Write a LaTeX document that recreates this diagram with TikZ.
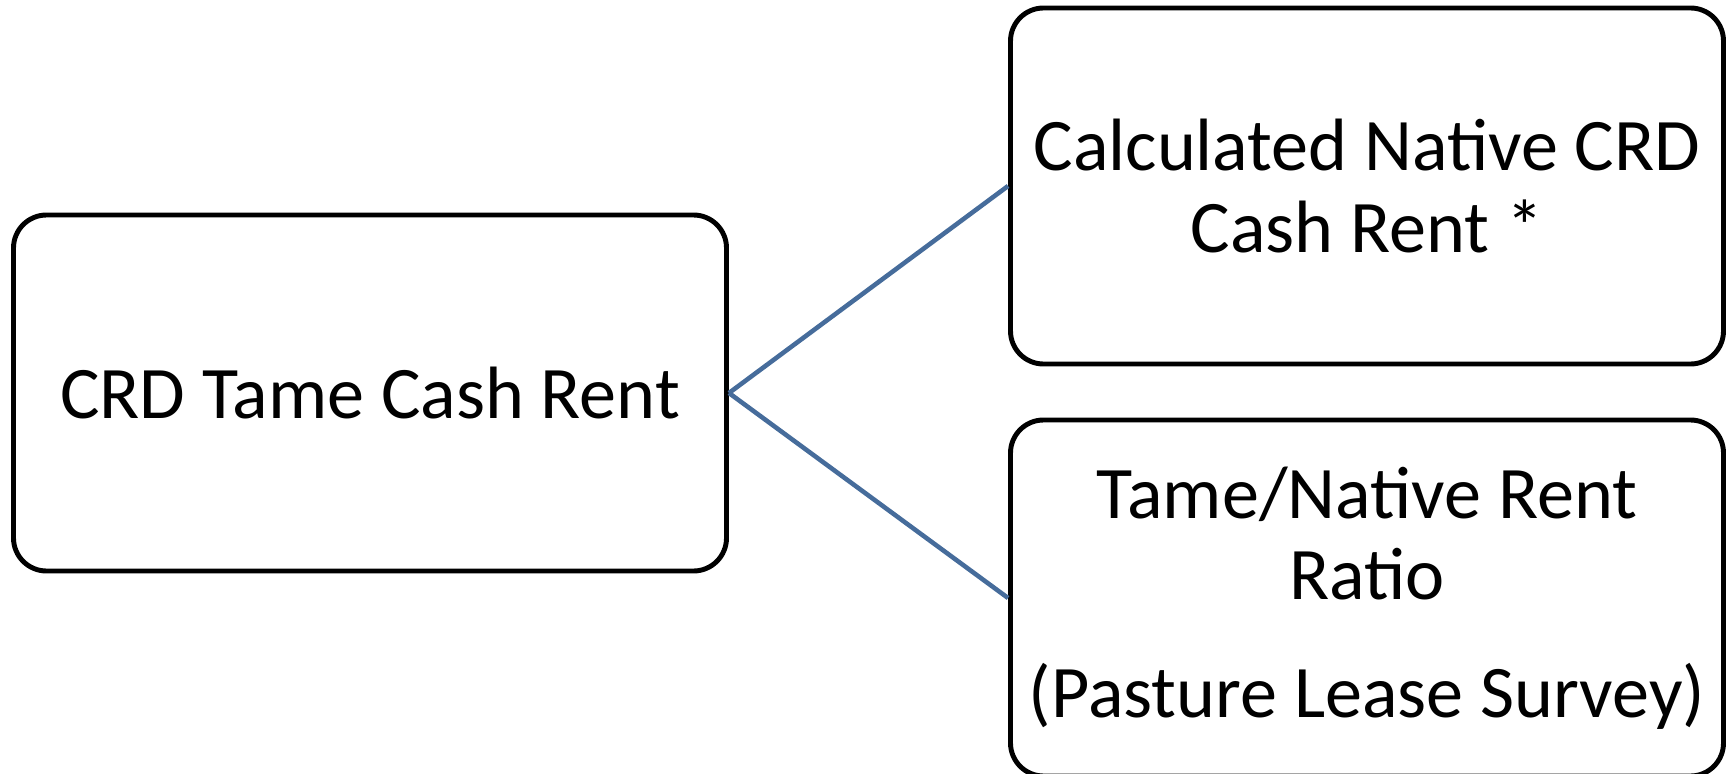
\documentclass[tikz,border=0pt]{standalone}
\usepackage{fontspec}
\setmainfont{Carlito}
\definecolor{linkblue}{RGB}{70,108,155}

\begin{document}
\begin{tikzpicture}[every node/.style={font=\fontsize{21.1}{23.2}\selectfont},
		box/.style={draw,line width=1.4pt,rounded corners=0.33cm,minimum width=7.13cm,minimum height=3.56cm,align=center,inner sep=2pt},
		link/.style={draw=linkblue,line width=1.3pt}]
			\useasboundingbox (0,0) rectangle (17.26,7.73);
			\node[box] (tame) at (3.70,3.80) {CRD Tame Cash Rent};
			\node[box] (native) at (13.67,5.87) {Calculated Native CRD\\Cash Rent *};
			\node[box] (ratio) at (13.67,1.75) {Tame/Native Rent\\Ratio\\[0.36cm](Pasture Lease Survey)};
			\draw[link] (tame.east) -- (native.west);
			\draw[link] (tame.east) -- (ratio.west);
		\end{tikzpicture}
\end{document}
